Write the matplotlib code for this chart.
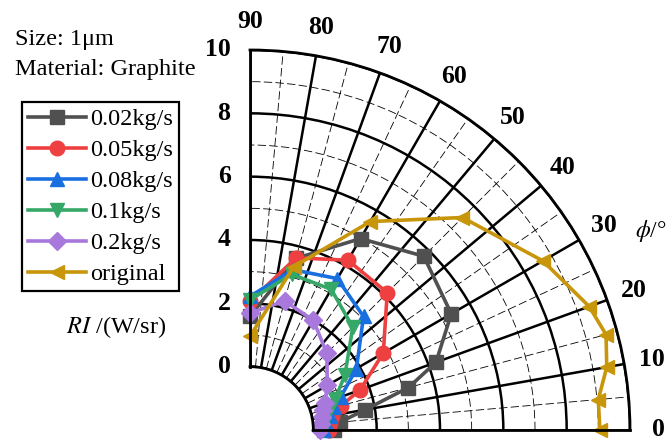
import numpy as np
import matplotlib
matplotlib.use('Agg')
import matplotlib.pyplot as plt

plt.rcParams['font.family'] = ['Liberation Serif', 'DejaVu Serif']
plt.rcParams['mathtext.fontset'] = 'stix'

# data (angle in degrees, RI in W/sr)
angles = [0, 5, 10, 15, 20, 30, 45, 60, 75, 90]
ri_002 = [0.64, 0.85, 1.70, 3.18, 4.25, 5.34, 5.76, 4.98, 3.61, 1.59]
ri_005 = [0.50, 0.55, 0.62, 0.98, 1.70, 2.86, 4.13, 4.19, 3.63, 2.06]
ri_008 = [0.35, 0.40, 0.55, 0.75, 1.05, 1.88, 3.07, 3.52, 3.24, 2.22]
ri_01 = [0.30, 0.35, 0.45, 0.60, 0.86, 1.46, 2.59, 3.13, 3.09, 2.11]
ri_02 = [0.20, 0.25, 0.30, 0.40, 0.52, 0.82, 1.43, 2.00, 2.22, 1.69]
ri_orig = [9.05, 9.04, 9.44, 9.64, 9.40, 8.68, 7.49, 5.60, 3.34, 0.96]

series = [ri_002, ri_005, ri_008, ri_01, ri_02, ri_orig]
labels = ['0.02kg/s', '0.05kg/s', '0.08kg/s', '0.1kg/s', '0.2kg/s', 'original']
colors = ['#505050', '#ee4040', '#1a6fe0', '#35a868', '#a878dc', '#c8960a']
markers = ['s', 'o', '^', 'v', 'D', '<']
msizes = [9.5, 10.5, 10.5, 10.5, 9.5, 10.5]

r_ticks = [0, 2, 4, 6, 8, 10]
theta_ticks = [0, 10, 20, 30, 40, 50, 60, 70, 80, 90]

W, H = 667, 441
fig = plt.figure(figsize=(W / 100, H / 100), dpi=100)
ax = fig.add_axes([250 / W, 11 / H, 380 / W, 380 / H], projection='polar')

ax.set_thetamin(0)
ax.set_thetamax(90)
ax.set_rorigin(-2.0)
ax.set_ylim(0, 10)

ax.set_xticks(np.deg2rad(theta_ticks))
ax.set_xticks(np.deg2rad(np.arange(5, 90, 10)), minor=True)
ax.set_yticks(r_ticks)
ax.set_yticks([1, 3, 5, 7, 9], minor=True)
ax.set_xticklabels([])
ax.set_yticklabels([])
ax.tick_params(which='both', length=0)

ax.grid(which='major', color='black', lw=1.8, ls='-')
ax.grid(which='minor', color='black', lw=0.6, ls=(0, (10, 4)))
for sp in ax.spines.values():
    sp.set_linewidth(2.0)
    sp.set_color('black')

for vals, lab, c, m, ms in zip(series, labels, colors, markers, msizes):
    ax.plot(np.deg2rad(angles), vals, color=c, marker=m, ms=ms, lw=2.6,
            label=lab, clip_on=False)

# angular labels
for a in theta_ticks:
    ax.text(np.deg2rad(a), 10.9, str(a), ha='center', va='center',
            fontsize=18.5, fontweight='bold')

# radial labels on the left edge
for r in r_ticks:
    ax.annotate(str(r), xy=(np.pi / 2, r), xytext=(-14, 0),
                textcoords='offset points', ha='right', va='center',
                fontsize=18.5, fontweight='bold')

fig.text(15 / W, 1 - 40 / H, 'Size: 1μm', fontsize=17.5, va='center')
fig.text(15 / W, 1 - 70 / H, 'Material: Graphite', fontsize=17.5, va='center')
fig.text(116 / W, 1 - 327 / H, r'$RI$ /(W/sr)', fontsize=17.5,
         ha='center', va='center')
fig.text(635 / W, 1 - 231 / H, r'$\phi$/°', fontsize=17, ha='left',
         va='center')

handles, labs = ax.get_legend_handles_labels()
leg = fig.legend(handles, labs, loc='upper left',
                 bbox_to_anchor=(22 / W, 1 - 102 / H), borderaxespad=0,
                 fontsize=17.5, handlelength=2.4, handletextpad=0.15,
                 labelspacing=0.37, borderpad=0.25, fancybox=False,
                 framealpha=1, edgecolor='black')
leg.get_frame().set_linewidth(1.6)

fig.savefig('out.png', dpi=100)
